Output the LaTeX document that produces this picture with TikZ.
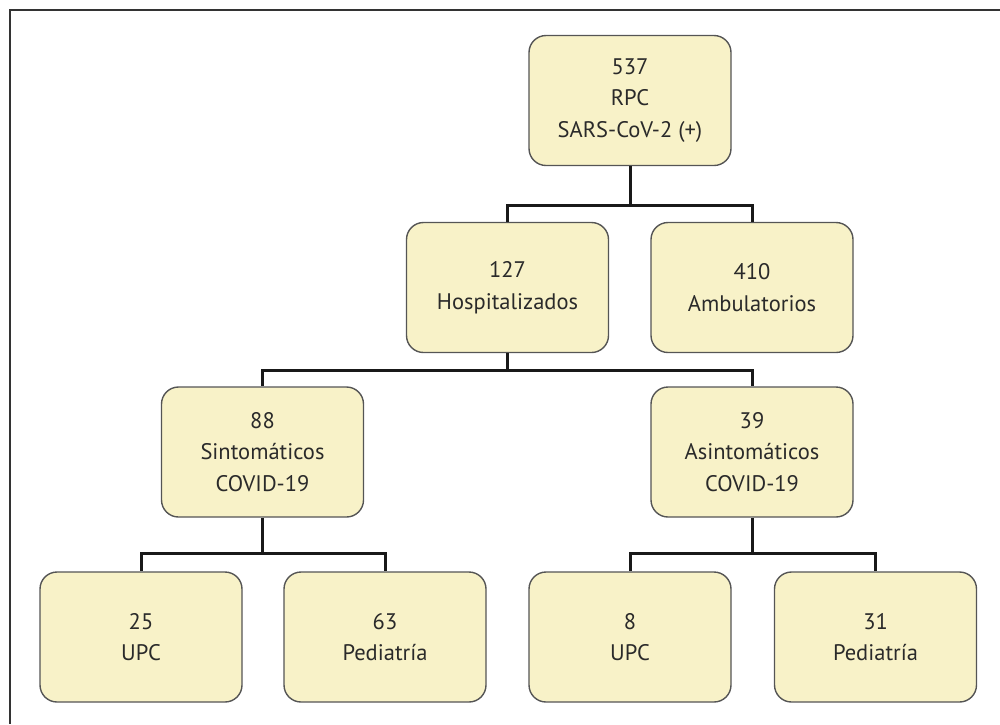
\documentclass[tikz,border=0pt]{standalone}
\usepackage{fontspec}
\setmainfont{PT Sans}
\definecolor{boxfill}{HTML}{F8F2C8}
\definecolor{boxdraw}{HTML}{555555}
\definecolor{txt}{HTML}{2A2A2A}
\definecolor{frame}{HTML}{333333}
\begin{document}
\begin{tikzpicture}[x=1pt,y=-1pt,
  box/.style={draw=boxdraw, line width=1.4pt, fill=boxfill, rounded corners=17pt,
    minimum width=202pt, minimum height=130pt, align=center, text=txt,
    font=\fontsize{22.5}{31.5}\selectfont, inner sep=0pt},
  link/.style={draw=black!90, line width=3pt}]
\useasboundingbox (0,0) rectangle (1000,724);
\draw[frame, line width=2pt] (1000,10) -- (10,10) -- (10,724);
\node[box] (top) at (630,100.5) {537\\RPC\\SARS-CoV-2 (+)};
\node[box] (hosp) at (507.5,287.5) {127\\Hospitalizados};
\node[box] (amb) at (752,287.5) {410\\Ambulatorios};
\node[box] (sint) at (262.5,452) {88\\Sintomáticos\\COVID-19};
\node[box] (asint) at (752,452) {39\\Asintomáticos\\COVID-19};
\node[box] (upc1) at (141,637) {25\\UPC};
\node[box] (ped1) at (385,637) {63\\Pediatría};
\node[box] (upc2) at (630,637) {8\\UPC};
\node[box] (ped2) at (875.5,637) {31\\Pediatría};
\coordinate (j1) at (630,205);
\coordinate (j2) at (507.5,370);
\coordinate (j3) at (262.5,553);
\coordinate (j4) at (752,553);
\draw[link] (top.south) -- (j1) -| (hosp.north);
\draw[link] (j1) -| (amb.north);
\draw[link] (hosp.south) -- (j2) -| (sint.north);
\draw[link] (j2) -| (asint.north);
\draw[link] (sint.south) -- (j3) -| (upc1.north);
\draw[link] (j3) -| (ped1.north);
\draw[link] (asint.south) -- (j4) -| (upc2.north);
\draw[link] (j4) -| (ped2.north);
\end{tikzpicture}
\end{document}
